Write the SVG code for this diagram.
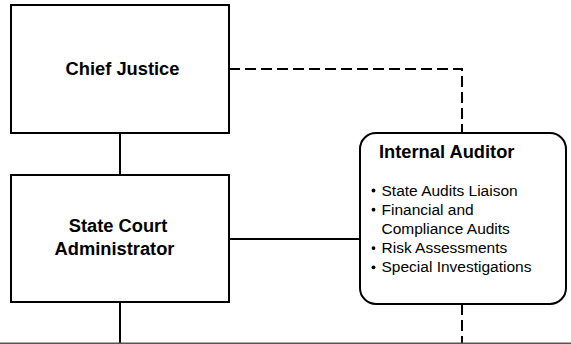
<svg xmlns="http://www.w3.org/2000/svg" width="571" height="344" viewBox="0 0 571 344">
<style>
.box{fill:#fff;stroke:#000;stroke-width:2}
.ln{fill:none;stroke:#000;stroke-width:2}
.dash{fill:none;stroke:#000;stroke-width:2;stroke-dasharray:11 5}
.t{font-family:"Liberation Sans",Arial,sans-serif;font-weight:bold;font-size:18.3px;fill:#000}
.b{font-family:"Liberation Sans",Arial,sans-serif;font-size:15.5px;fill:#000}
</style>
<rect width="571" height="344" fill="#fff"/>
<g id="connectors">
<line class="ln" x1="120" y1="133" x2="120" y2="175"/>
<line class="ln" x1="120" y1="302" x2="120" y2="344"/>
<line class="ln" x1="229" y1="239" x2="360" y2="239"/>
<path class="dash" d="M229 69 H462 V133"/>
<line class="dash" x1="462" y1="304" x2="462" y2="344"/>
<line x1="0" y1="343.2" x2="571" y2="343.2" stroke="#555" stroke-width="1.6"/>
</g>
<g id="chief-justice">
<rect class="box" x="11" y="5" width="218" height="128"/>
<text class="t" x="122.5" y="75" text-anchor="middle">Chief Justice</text>
</g>
<g id="state-court-administrator">
<rect class="box" x="11" y="175" width="218" height="127"/>
<text class="t" x="118" y="231.5" text-anchor="middle">State Court</text>
<text class="t" x="114.5" y="255" text-anchor="middle">Administrator</text>
</g>
<g id="internal-auditor">
<rect class="box" x="360" y="133" width="206" height="171" rx="16" ry="16"/>
<text class="t" x="379" y="158">Internal Auditor</text>
<circle cx="373.5" cy="190.5" r="1.9"/>
<text class="b" x="381.5" y="195.5">State Audits Liaison</text>
<circle cx="373.5" cy="209.7" r="1.9"/>
<text class="b" x="381.5" y="214.7">Financial and</text>
<text class="b" x="381.5" y="233.9">Compliance Audits</text>
<circle cx="373.5" cy="248.1" r="1.9"/>
<text class="b" x="381.5" y="253.1">Risk Assessments</text>
<circle cx="373.5" cy="267.3" r="1.9"/>
<text class="b" x="381.5" y="272.3">Special Investigations</text>
</g>
</svg>
